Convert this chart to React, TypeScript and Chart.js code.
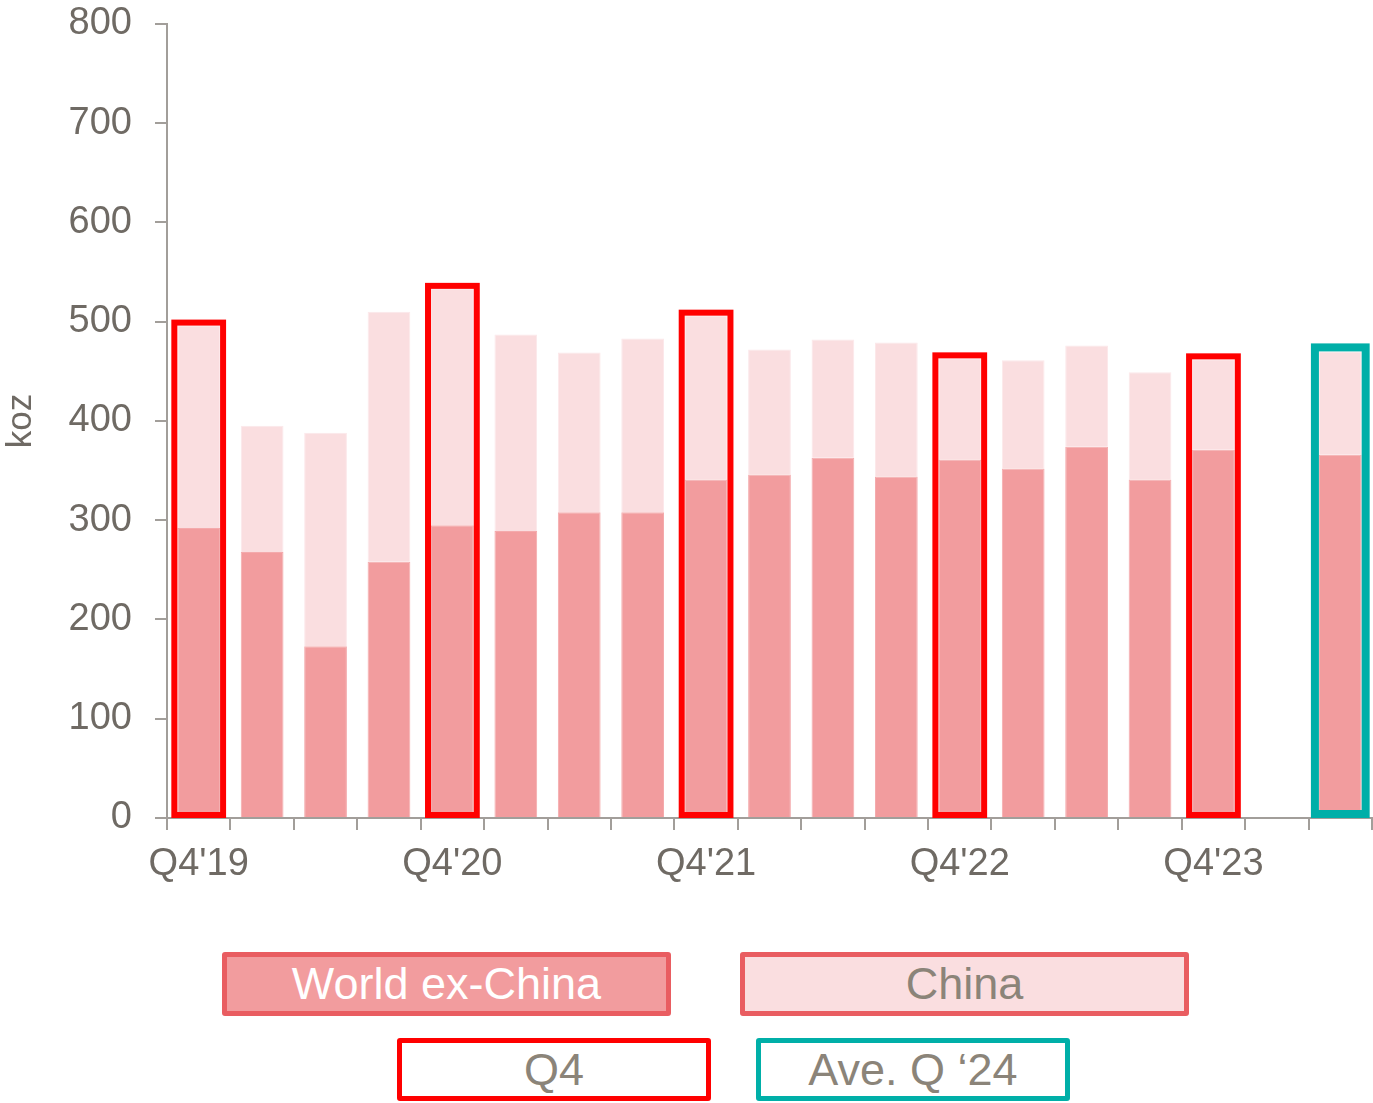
import React, { useEffect, useRef } from "react";
import { Chart, registerables } from "chart.js";

Chart.register(...registerables);

const categories = [
  "Q4'19", "Q1'20", "Q2'20", "Q3'20", "Q4'20", "Q1'21", "Q2'21", "Q3'21",
  "Q4'21", "Q1'22", "Q2'22", "Q3'22", "Q4'22", "Q1'23", "Q2'23", "Q3'23",
  "Q4'23", "", "Ave. Q '24",
];
const tickLabels = [
  "Q4'19", "", "", "", "Q4'20", "", "", "", "Q4'21", "", "", "", "Q4'22", "", "", "",
  "Q4'23", "", "",
];
const worldExChina = [292, 268, 173, 258, 295, 289, 308, 308, 341, 346, 363, 344, 361, 352, 374, 341, 371, null, 366];
const china = [204, 127, 215, 252, 238, 198, 161, 175, 165, 126, 119, 135, 102, 109, 102, 108, 91, null, 104];
const highlight = ["q4", "", "", "", "q4", "", "", "", "q4", "", "", "", "q4", "", "", "", "q4", "", "ave"];
const yTicks = [0, 100, 200, 300, 400, 500, 600, 700, 800];

const AXIS_FONT = "'Liberation Sans', Arial, sans-serif";
const LEGEND_FONT = "'Liberation Sans', Arial, sans-serif";
const AXIS_TEXT = "#6F6A64";
const LEGEND_TEXT = "#8B8479";
const AXIS_LINE = "#A29E9A";
const WORLD_COLOR = "#F29C9E";
const CHINA_COLOR = "#FADEE0";
const RED = "#FF0000";
const TEAL = "#00AFA8";

const highlightPlugin = {
  id: "highlightBoxes",
  afterDatasetsDraw(chart: any) {
    const ctx = chart.ctx;
    const topMeta = chart.getDatasetMeta(1);
    const baseMeta = chart.getDatasetMeta(0);
    highlight.forEach((h, i) => {
      if (!h) return;
      const topEl = topMeta.data[i];
      const baseEl = baseMeta.data[i];
      if (!topEl || !baseEl) return;
      const { x, y, width } = topEl.getProps(["x", "y", "width"], true);
      const { base } = baseEl.getProps(["base"], true);
      const lw = h === "q4" ? 6 : 8;
      ctx.save();
      ctx.strokeStyle = h === "q4" ? RED : TEAL;
      ctx.lineWidth = lw;
      ctx.strokeRect(x - width / 2 - lw / 2, y - lw / 2, width + lw, base - y + 1);
      ctx.restore();
    });
  },
};

export default function App() {
  const canvasRef = useRef<HTMLCanvasElement | null>(null);

  useEffect(() => {
    if (!canvasRef.current) return;
    const chart = new Chart(canvasRef.current, {
      type: "bar",
      data: {
        labels: categories,
        datasets: [
          {
            label: "World ex-China",
            data: worldExChina as any,
            backgroundColor: WORLD_COLOR,
            borderColor: "#F4AAAC",
            borderWidth: 1,
            barPercentage: 0.674,
            categoryPercentage: 1,
          },
          {
            label: "China",
            data: china as any,
            backgroundColor: CHINA_COLOR,
            borderColor: "#FCE8EA",
            borderWidth: 1,
            barPercentage: 0.674,
            categoryPercentage: 1,
          },
        ],
      },
      options: {
        animation: false,
        responsive: true,
        maintainAspectRatio: false,
        layout: { padding: { top: 0, right: 1, left: 0, bottom: 0 } },
        plugins: {
          legend: { display: false },
          tooltip: { enabled: false },
        },
        scales: {
          x: {
            stacked: true,
            afterFit: (scale: any) => {
              scale.height = 82;
            },
            grid: {
              offset: true,
              drawOnChartArea: false,
              drawTicks: true,
              tickLength: 12,
              color: AXIS_LINE,
              lineWidth: 2,
            },
            border: { display: true, color: AXIS_LINE, width: 2 },
            ticks: {
              autoSkip: false,
              maxRotation: 0,
              minRotation: 0,
              padding: 12,
              color: AXIS_TEXT,
              font: { family: AXIS_FONT, size: 38 },
              callback: (_v: any, i: number) => tickLabels[i],
            },
          },
          y: {
            stacked: true,
            min: 0,
            max: 800,
            afterFit: (scale: any) => {
              scale.width = 167;
            },
            afterBuildTicks: (scale: any) => {
              scale.ticks = yTicks.map((v) => ({ value: v }));
            },
            grid: {
              drawOnChartArea: false,
              drawTicks: true,
              tickLength: 12,
              color: AXIS_LINE,
              lineWidth: 2,
            },
            border: { display: true, color: AXIS_LINE, width: 2 },
            ticks: {
              padding: 23,
              color: AXIS_TEXT,
              font: { family: AXIS_FONT, size: 38 },
            },
            title: {
              display: true,
              text: "koz",
              color: AXIS_TEXT,
              font: { family: AXIS_FONT, size: 35 },
              padding: { top: 0, bottom: 0 },
            },
          },
        },
      },
      plugins: [highlightPlugin],
    });
    return () => chart.destroy();
  }, []);

  const box = (
    left: number,
    top: number,
    width: number,
    height: number,
    border: string,
    bg: string,
    color: string,
    text: string
  ) => (
    <div
      style={{
        position: "absolute",
        left,
        top,
        width,
        height,
        boxSizing: "border-box",
        border: `5px solid ${border}`,
        borderRadius: 3,
        background: bg,
        color,
        fontFamily: LEGEND_FONT,
        fontSize: 45,
        lineHeight: `${height - 10}px`,
        textAlign: "center",
        whiteSpace: "nowrap",
      }}
    >
      {text}
    </div>
  );

  return (
    <div
      style={{
        position: "absolute",
        left: 0,
        top: 0,
        width: 1373,
        height: 1103,
        background: "#FFFFFF",
        overflow: "hidden",
      }}
    >
      <div style={{ position: "absolute", left: 0, top: -22, width: 1373, height: 922 }}>
        <canvas ref={canvasRef} />
      </div>
      {box(222, 952, 449, 64, "#E95D61", WORLD_COLOR, "#FFFFFF", "World ex-China")}
      {box(740, 952, 449, 64, "#E95D61", CHINA_COLOR, LEGEND_TEXT, "China")}
      {box(397, 1038, 314, 63, RED, "#FFFFFF", LEGEND_TEXT, "Q4")}
      {box(756, 1038, 314, 63, TEAL, "#FFFFFF", LEGEND_TEXT, "Ave. Q \u201824")}
    </div>
  );
}
